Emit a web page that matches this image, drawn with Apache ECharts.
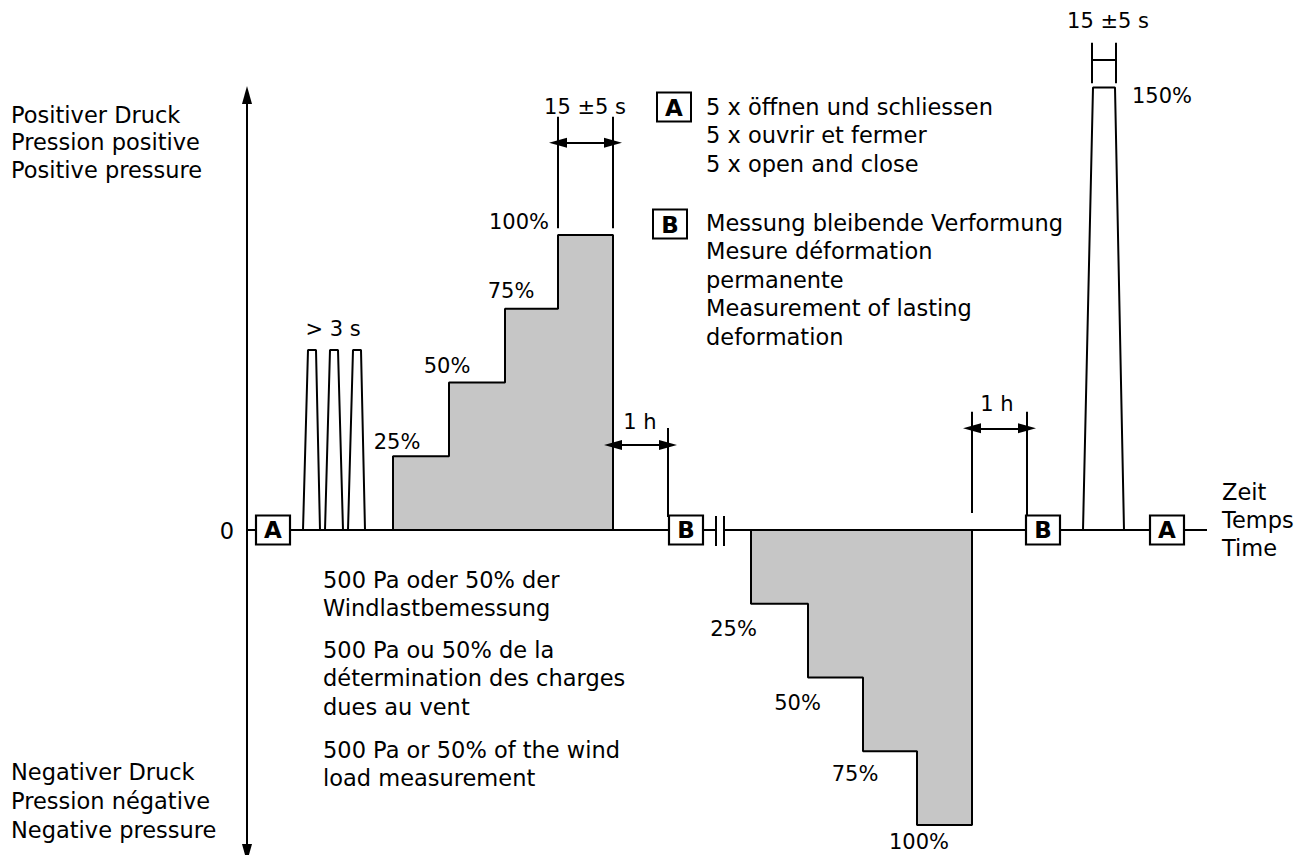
<!DOCTYPE html>
<html><head><meta charset="utf-8">
<script src="https://cdn.jsdelivr.net/npm/echarts@6/dist/echarts.min.js"></script>
<style>html,body{margin:0;padding:0;background:#fff}#c{width:1314px;height:855px}</style>
</head><body><div id="c"></div>
<script>
// ---- data (time in arbitrary units from the origin, pressure in % of test load) ----
const stepLevels = [25, 50, 75, 100];
const stepLabels = ['25%', '50%', '75%', '100%'];
const posStepTimes = [146, 202, 258, 311, 366];
const negStepTimes = [504, 561, 616, 670, 725];
const cycleLevel = 61;
const cyclePulses = [[56, 61, 69, 73], [78, 83, 91, 96], [101, 106, 114, 118]];
const peakLevel = 150;
const peakLabel = '150%';
const peakTimes = [836, 846, 868, 877];
const boxATimes = [26, 920];
const boxBTimes = [439, 796];
const breakTimes = [469, 477];
const timeEnd = 960;

// ---- layout ----
const W = 1314, H = 855;
const ORIGIN_X = 247, ZERO_Y = 530, PX_PER_PCT = 2.95;
const yMax = ZERO_Y / PX_PER_PCT, yMin = -(H - ZERO_Y) / PX_PER_PCT;
const pct = py => (ZERO_Y - py) / PX_PER_PCT;
const FONT = 'DejaVu Sans';
const BIG = 22.5, SMALL = 21;

function staircase(times, levels, sign) {
  const pts = [[times[0], 0]];
  levels.forEach((lv, i) => { pts.push([times[i], sign * lv]); pts.push([times[i + 1], sign * lv]); });
  pts.push([times[times.length - 1], 0]);
  return pts;
}
function pulse(t, lv) { return [[t[0], 0], [t[1], lv], [t[2], lv], [t[3], 0]]; }

const ARW = { symbol: 'triangle', symbolSize: [10, 18] };
function seg(x1, y1, x2, y2, a1, a2) {
  return [Object.assign({ coord: [x1, y1] }, a1 ? ARW : { symbol: 'none' }),
          Object.assign({ coord: [x2, y2] }, a2 ? ARW : { symbol: 'none' })];
}
const guideLines = [
  seg(0, pct(853), 0, pct(95), true, true),          // pressure axis
  seg(0, 0, breakTimes[0], 0),                        // time axis
  seg(breakTimes[1], 0, timeEnd, 0),
  seg(breakTimes[0], pct(516), breakTimes[0], pct(546)),
  seg(breakTimes[1], pct(516), breakTimes[1], pct(546)),
  // 15 ±5 s at 100%
  seg(posStepTimes[3], pct(116.7), posStepTimes[3], pct(228.3)),
  seg(posStepTimes[4], pct(116.7), posStepTimes[4], pct(228.3)),
  seg(posStepTimes[3], pct(142.7), posStepTimes[4], pct(142.7), true, true),
  // 1 h after positive
  seg(boxBTimes[0] - 18, pct(428), boxBTimes[0] - 18, pct(517)),
  seg(posStepTimes[4], pct(445), boxBTimes[0] - 18, pct(445), true, true),
  // 1 h after negative
  seg(negStepTimes[4], pct(411.7), negStepTimes[4], pct(513)),
  seg(boxBTimes[1] - 16, pct(411.7), boxBTimes[1] - 16, pct(517)),
  seg(negStepTimes[4], pct(428.3), boxBTimes[1] - 16, pct(428.3), true, true),
  // 15 ±5 s at 150%
  seg(peakTimes[1] - 1, pct(42.7), peakTimes[1] - 1, pct(83.3)),
  seg(peakTimes[2] + 1, pct(42.7), peakTimes[2] + 1, pct(83.3)),
  seg(peakTimes[1] - 1, pct(59.3), peakTimes[2] + 1, pct(59.3))
];

const lineBase = { type: 'line', symbol: 'none', silent: true, clip: false,
  lineStyle: { color: '#000', width: 2 } };

const series = [
  Object.assign({}, lineBase, { name: 'pos', data: staircase(posStepTimes, stepLevels, 1),
    areaStyle: { color: '#c6c6c6', opacity: 1, origin: 0 } }),
  Object.assign({}, lineBase, { name: 'neg', data: staircase(negStepTimes, stepLevels, -1),
    areaStyle: { color: '#c6c6c6', opacity: 1, origin: 0 } }),
  ...cyclePulses.map((p, i) => Object.assign({}, lineBase, { name: 'cycle' + i, data: pulse(p, cycleLevel) })),
  Object.assign({}, lineBase, { name: 'peak', data: pulse(peakTimes, peakLevel) }),
  Object.assign({}, lineBase, { name: 'guides', data: [], z: 3,
    markLine: { silent: true, animation: false, symbol: ['none', 'none'], label: { show: false },
      lineStyle: { color: '#000', width: 2, type: 'solid' }, emphasis: { disabled: true },
      data: guideLines } }),
  { type: 'scatter', name: 'boxes', z: 6, silent: true, symbol: 'rect', symbolSize: [34, 29],
    itemStyle: { color: '#fff', borderColor: '#000', borderWidth: 2, opacity: 1 },
    label: { show: true, position: 'inside', formatter: p => p.name, color: '#000',
      fontFamily: FONT, fontWeight: 'bold', fontSize: 23 },
    data: boxATimes.map(t => ({ name: 'A', value: [t, 0] })).concat(boxBTimes.map(t => ({ name: 'B', value: [t, 0] }))) }
];

function txt(x, y, text, o) {
  o = o || {};
  return { type: 'text', x: x, y: y, silent: true, z: 10,
    style: { text: text, fill: '#000', fontFamily: FONT, fontSize: o.size || BIG,
      align: o.align || 'left', verticalAlign: o.va || 'middle', lineHeight: o.lh || 28,
      fontWeight: o.weight || 'normal' } };
}
function box(cx, cy, letter) {
  return [
    { type: 'rect', silent: true, z: 10, shape: { x: cx - 17, y: cy - 14.5, width: 34, height: 29 },
      style: { fill: '#fff', stroke: '#000', lineWidth: 2 } },
    txt(cx, cy + 1, letter, { align: 'center', weight: 'bold', size: 23 })
  ];
}

const graphics = [
  txt(11, 101, 'Positiver Druck\nPression positive\nPositive pressure', { va: 'top', lh: 27.5 }),
  txt(11, 757, 'Negativer Druck\nPression négative\nNegative pressure', { va: 'top', lh: 29 }),
  txt(234, 531, '0', { align: 'right' }),
  ...box(674, 107, 'A'),
  txt(706, 92.5, '5 x öffnen und schliessen\n5 x ouvrir et fermer\n5 x open and close', { va: 'top', lh: 28.6 }),
  ...box(670, 224, 'B'),
  txt(706, 208.5, 'Messung bleibende Verformung\nMesure déformation\npermanente\nMeasurement of lasting\ndeformation', { va: 'top', lh: 28.5 }),
  txt(333, 328.5, '> 3 s', { align: 'center', size: SMALL }),
  txt(397, 442, stepLabels[0], { align: 'center', size: SMALL }),
  txt(447, 365.5, stepLabels[1], { align: 'center', size: SMALL }),
  txt(511, 291, stepLabels[2], { align: 'center', size: SMALL }),
  txt(519, 222, stepLabels[3], { align: 'center', size: SMALL }),
  txt(585, 107, '15 ±5 s', { align: 'center', size: SMALL }),
  txt(640, 422, '1 h', { align: 'center', size: SMALL }),
  txt(997, 404, '1 h', { align: 'center', size: SMALL }),
  txt(1108, 21, '15 ±5 s', { align: 'center', size: SMALL }),
  txt(1132, 95.5, peakLabel, { size: SMALL }),
  txt(1222, 477.5, 'Zeit\nTemps\nTime', { va: 'top', lh: 28.3 }),
  txt(323, 566, '500 Pa oder 50% der\nWindlastbemessung', { va: 'top', lh: 28.3 }),
  txt(323, 636, '500 Pa ou 50% de la\ndétermination des charges\ndues au vent', { va: 'top', lh: 28.3 }),
  txt(323, 736, '500 Pa or 50% of the wind\nload measurement', { va: 'top', lh: 28.3 }),
  txt(733.5, 628.5, stepLabels[0], { align: 'center', size: SMALL }),
  txt(797.5, 703, stepLabels[1], { align: 'center', size: SMALL }),
  txt(855, 773.5, stepLabels[2], { align: 'center', size: SMALL }),
  txt(919, 841.5, stepLabels[3], { align: 'center', size: SMALL })
];

const chart = echarts.init(document.getElementById('c'), null, { renderer: 'svg', width: W, height: H });
chart.setOption({
  animation: false,
  backgroundColor: '#fff',
  grid: { left: 0, right: 0, top: 0, bottom: 0, containLabel: false },
  xAxis: { type: 'value', min: -ORIGIN_X, max: W - ORIGIN_X, show: false },
  yAxis: { type: 'value', min: yMin, max: yMax, show: false },
  series: series,
  graphic: graphics
});
</script></body></html>
